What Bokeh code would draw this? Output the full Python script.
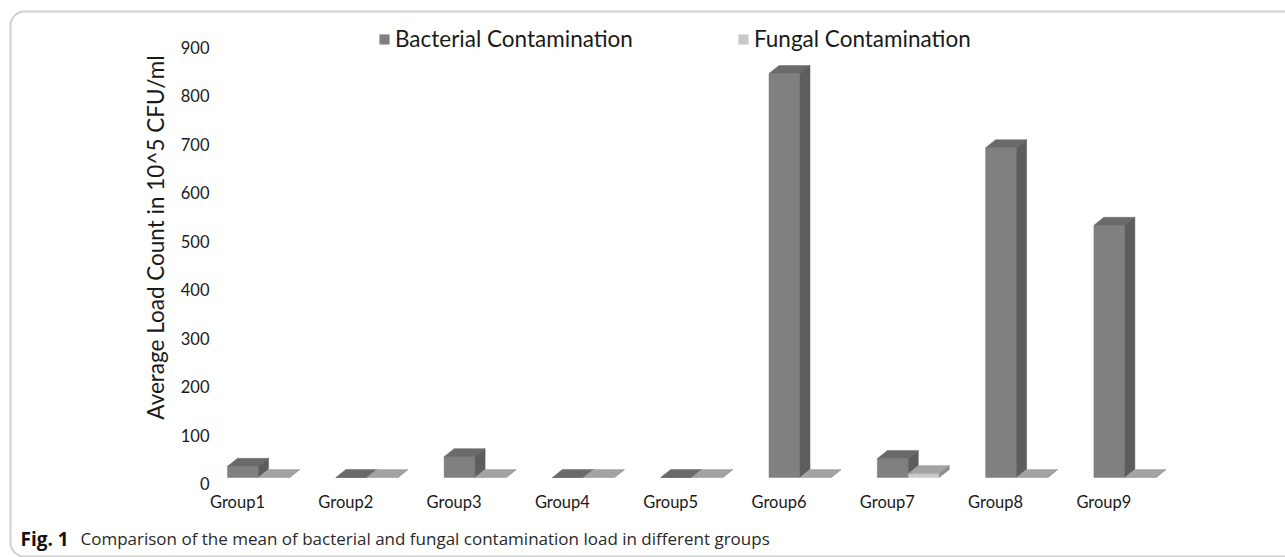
import math
from bokeh.plotting import figure
from bokeh.models import (Range1d, LinearAxis, FixedTicker, Legend, LegendItem,
                          Label, BoxAnnotation)
from bokeh.embed import file_html
from bokeh.resources import INLINE

# ---------------- data ----------------
groups = ["Group1", "Group2", "Group3", "Group4", "Group5",
          "Group6", "Group7", "Group8", "Group9"]
bacterial = [23, 0, 43, 0, 0, 833, 39, 680, 520]
fungal = [0, 0, 0, 0, 0, 0, 8, 0, 0]
series_names = ["Bacterial Contamination", "Fungal Contamination"]
y_ticks = [0, 100, 200, 300, 400, 500, 600, 700, 800, 900]
y_title = "Average Load Count in 10^5 CFU/ml"
caption_bold = "Fig. 1"
caption_text = "Comparison of the mean of bacterial and fungal contamination load in different groups"

# ---------------- layout (canvas pixels) ----------------
W, H = 1285, 557
X_PX = 108.3      # px per category
X1_PX = 237       # x of category 1
Y_PX = 0.485      # px per value unit
Y0_BAR = 477      # y of bar floor (front plane)
Y0_AXIS = 483     # y of the axis zero (back plane)
YAXIS_X = 220     # x where y-axis labels end (+standoff)
XAXIS_Y = 480     # y where category labels start (-standoff)

x_start = 1 - X1_PX / X_PX
x_end = x_start + W / X_PX
y_end = Y0_BAR / Y_PX
y_start = (Y0_BAR - H) / Y_PX
ay_end = Y0_AXIS / Y_PX
ay_start = (Y0_AXIS - H) / Y_PX

FONT = "Lato"
TXT = "#1a1a1a"

p = figure(width=W, height=H,
           x_range=Range1d(x_start, x_end), y_range=Range1d(y_start, y_end),
           output_backend="svg", toolbar_location=None, y_axis_location=None,
           min_border=0, min_border_left=0, min_border_right=0,
           min_border_top=0, min_border_bottom=0)
p.outline_line_color = None
p.xgrid.visible = False
p.ygrid.visible = False
p.background_fill_color = "white"
p.border_fill_color = "white"

# x axis (category labels)
p.xaxis.fixed_location = (Y0_BAR - XAXIS_Y) / Y_PX
p.xaxis.ticker = FixedTicker(ticks=list(range(1, len(groups) + 1)))
p.xaxis.major_label_overrides = {i + 1: g for i, g in enumerate(groups)}
p.xaxis.axis_line_color = None
p.xaxis.major_tick_line_color = None
p.xaxis.minor_tick_line_color = None
p.xaxis.major_label_standoff = 5
p.xaxis.major_label_text_font = FONT
p.xaxis.major_label_text_font_size = "16.5px"
p.xaxis.major_label_text_color = TXT

# y axis (back plane)
p.extra_y_ranges = {"axis": Range1d(ay_start, ay_end)}
yax = LinearAxis(y_range_name="axis", ticker=FixedTicker(ticks=y_ticks))
yax.fixed_location = x_start + YAXIS_X / X_PX
yax.axis_line_color = None
yax.major_tick_line_color = None
yax.minor_tick_line_color = None
yax.major_label_standoff = 5
yax.major_label_text_font = FONT
yax.major_label_text_font_size = "16.5px"
yax.major_label_text_color = TXT
p.add_layout(yax, "left")

# ---------------- 3D bars ----------------
BAR_W = 31 / X_PX
DX = 10 / X_PX
DY = 8 / Y_PX
offsets = [(227 - 237) / X_PX, (258 - 237) / X_PX]
colors = [
    {"front": "#808080", "top": "#6a6a6a", "side": "#5d5d5d"},
    {"front": "#c9c9c9", "top": "#a3a3a3", "side": "#8e8e8e"},
]
legend_renderers = []
for s, vals in enumerate([bacterial, fungal]):
    left, right, top = [], [], []
    txs, tys, sxs, sys_ = [], [], [], []
    for i, v in enumerate(vals):
        x0 = (i + 1) + offsets[s]
        x1 = x0 + BAR_W
        left.append(x0)
        right.append(x1)
        top.append(v)
        txs.append([x0, x1, x1 + DX, x0 + DX])
        tys.append([v, v, v + DY, v + DY])
        sxs.append([x1, x1 + DX, x1 + DX, x1])
        sys_.append([0, DY, v + DY, v])
    c = colors[s]
    fr = p.quad(left=left, right=right, bottom=0, top=top,
                fill_color=c["front"], line_color=c["front"], line_width=0.5)
    p.patches(xs=txs, ys=tys, fill_color=c["top"], line_color=c["top"], line_width=0.5)
    p.patches(xs=sxs, ys=sys_, fill_color=c["side"], line_color=c["side"], line_width=0.5)
    legend_renderers.append(fr)

legend = Legend(items=[LegendItem(label=series_names[k], renderers=[legend_renderers[k]])
                       for k in range(2)],
                location=(378, H - 52),
                orientation="horizontal", spacing=104, padding=0, margin=0,
                glyph_width=12, glyph_height=12, label_standoff=5,
                label_text_font=FONT, label_text_font_size="22.5px",
                label_text_color=TXT, border_line_color=None,
                background_fill_alpha=0)
p.add_layout(legend)

# y axis title
p.add_layout(Label(x=155, y=H - 237, x_units="screen", y_units="screen",
                   text=y_title, angle=math.pi / 2, text_align="center",
                   text_baseline="middle", text_font=FONT, text_font_size="22.5px",
                   text_color=TXT))

# caption
p.add_layout(Label(x=20, y=H - 538, x_units="screen", y_units="screen",
                   text=caption_bold, text_font="Open Sans", text_font_style="bold",
                   text_font_size="19px", text_baseline="middle", text_color="#111111"))
p.add_layout(Label(x=80, y=H - 538, x_units="screen", y_units="screen",
                   text=caption_text, text_font="Open Sans",
                   text_font_size="17px", text_baseline="middle", text_color="#2a2a2a"))

# frame border
p.add_layout(BoxAnnotation(left=10, right=W + 40, top=H - 11, bottom=1,
                           left_units="screen", right_units="screen",
                           top_units="screen", bottom_units="screen",
                           fill_alpha=0, line_color="#5f5f5f", line_width=2,
                           border_radius=14))

open("out.html", "w").write(file_html(p, INLINE))
